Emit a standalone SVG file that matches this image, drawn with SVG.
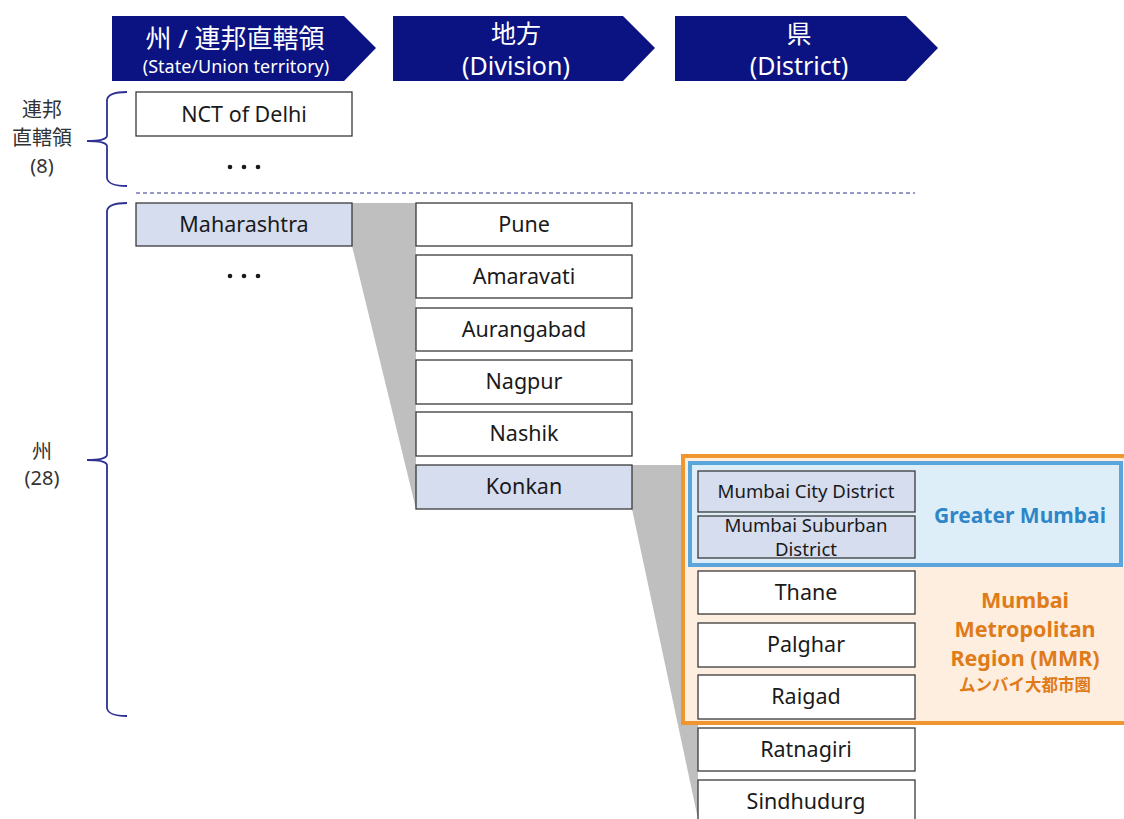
<svg xmlns="http://www.w3.org/2000/svg" width="1124" height="819" viewBox="0 0 1124 819">
  <style>
    .hdr { fill: #0b1281; }
    .ht { fill: #ffffff; font-family: "Noto Sans", "Noto Sans CJK JP", sans-serif; text-anchor: middle; }
    .box { fill: #ffffff; stroke: #3a3a3a; stroke-width: 1.3; }
    .sel { fill: #d6ddef; stroke: #3a3a3a; stroke-width: 1.3; }
    .bt { fill: #1a1a1a; font-family: "Noto Sans", "Noto Sans CJK JP", sans-serif; font-size: 21.5px; text-anchor: middle; }
    .sm { font-size: 18.6px; }
    .lbl { fill: #333333; font-family: "Noto Sans", "Noto Sans CJK JP", sans-serif; font-size: 20px; text-anchor: middle; }
    .brace { fill: none; stroke: #2e3192; stroke-width: 1.8; }
    .funnel { fill: #bfbfbf; }
    .dots { fill: #1a1a1a; }
  </style>

  <rect width="1124" height="819" fill="#ffffff"/>

  <!-- column headers -->
  <g id="hdr-state">
    <polygon class="hdr" points="112,16 344,16 376,48 344,81 112,81"/>
    <text class="ht" x="235" y="48" font-size="26">州 / 連邦直轄領</text>
    <text class="ht" x="236" y="73" font-size="18">(State/Union territory)</text>
  </g>
  <g id="hdr-division">
    <polygon class="hdr" points="393,16 623,16 655,48 623,81 393,81"/>
    <text class="ht" x="516" y="43" font-size="25">地方</text>
    <text class="ht" x="516" y="75" font-size="25">(Division)</text>
  </g>
  <g id="hdr-district">
    <polygon class="hdr" points="675,16 906,16 938,48 906,81 675,81"/>
    <text class="ht" x="799" y="43" font-size="25">県</text>
    <text class="ht" x="799" y="75" font-size="25">(District)</text>
  </g>

  <!-- group labels and braces -->
  <g id="label-ut">
    <text class="lbl" x="42" y="117">連邦</text>
    <text class="lbl" x="42" y="145">直轄領</text>
    <text class="lbl" x="42" y="173">(8)</text>
    <path class="brace" d="M127,92 Q108,92 107,100 L107,136 Q106,141 87,141 Q106,141 107,146 L107,178 Q108,186 127,186"/>
  </g>
  <g id="label-state">
    <text class="lbl" x="42" y="459">州</text>
    <text class="lbl" x="42" y="485">(28)</text>
    <path class="brace" d="M127,203 Q108,203 107,211 L107,455 Q106,460 87,460 Q106,460 107,465 L107,708 Q108,716 127,716"/>
  </g>

  <!-- divider between union territories and states -->
  <line x1="136" y1="193" x2="915" y2="193" stroke="#2e3192" stroke-width="1" stroke-dasharray="4,3"/>

  <!-- connectors: expansion funnels -->
  <g id="connectors">
    <polygon class="funnel" points="352,203 416,203 416,509 352,246"/>
    <polygon class="funnel" points="632,465 698,465 698,819 632,509"/>
  </g>

  <!-- union territory column -->
  <g id="nct-delhi">
    <rect class="box" x="136" y="92" width="216" height="44"/>
    <text class="bt" x="244" y="122">NCT of Delhi</text>
  </g>
  <g id="ut-more" class="dots">
    <circle cx="230" cy="167" r="2.3"/><circle cx="244" cy="167" r="2.3"/><circle cx="258" cy="167" r="2.3"/>
  </g>

  <!-- state column -->
  <g id="maharashtra">
    <rect class="sel" x="136" y="203" width="216" height="43"/>
    <text class="bt" x="244" y="232">Maharashtra</text>
  </g>
  <g id="state-more" class="dots">
    <circle cx="230" cy="276" r="2.3"/><circle cx="244" cy="276" r="2.3"/><circle cx="258" cy="276" r="2.3"/>
  </g>

  <!-- division column -->
  <g id="pune">
    <rect class="box" x="416" y="203" width="216" height="43"/>
    <text class="bt" x="524" y="232">Pune</text>
  </g>
  <g id="amaravati">
    <rect class="box" x="416" y="255" width="216" height="43"/>
    <text class="bt" x="524" y="284">Amaravati</text>
  </g>
  <g id="aurangabad">
    <rect class="box" x="416" y="308" width="216" height="43"/>
    <text class="bt" x="524" y="337">Aurangabad</text>
  </g>
  <g id="nagpur">
    <rect class="box" x="416" y="360" width="216" height="44"/>
    <text class="bt" x="524" y="389">Nagpur</text>
  </g>
  <g id="nashik">
    <rect class="box" x="416" y="412" width="216" height="44"/>
    <text class="bt" x="524" y="441">Nashik</text>
  </g>
  <g id="konkan">
    <rect class="sel" x="416" y="465" width="216" height="44"/>
    <text class="bt" x="524" y="494">Konkan</text>
  </g>

  <!-- metropolitan region frames -->
  <g id="mmr">
    <rect x="683" y="456" width="445" height="267" fill="#fdeee0" stroke="#f0962e" stroke-width="4"/>
    <g fill="#e07b1a" font-family="Noto Sans, Noto Sans CJK JP, sans-serif" font-weight="bold" text-anchor="middle">
      <text x="1025" y="608" font-size="21.5">Mumbai</text>
      <text x="1025" y="637" font-size="21.5">Metropolitan</text>
      <text x="1025" y="666" font-size="21.5">Region (MMR)</text>
      <text x="1025" y="691" font-size="16.5">ムンバイ大都市圏</text>
    </g>
  </g>
  <g id="greater-mumbai">
    <rect x="690" y="463" width="431" height="102" fill="#ddeef8" stroke="#5aa6dc" stroke-width="4"/>
    <text x="1020" y="523" fill="#2e86c8" font-family="Noto Sans, sans-serif" font-size="21" font-weight="bold" text-anchor="middle">Greater Mumbai</text>
  </g>

  <!-- district column -->
  <g id="mumbai-city">
    <rect class="sel" x="698" y="471" width="217" height="41"/>
    <text class="bt sm" x="806" y="498">Mumbai City District</text>
  </g>
  <g id="mumbai-suburban">
    <rect class="sel" x="698" y="516" width="217" height="42"/>
    <text class="bt sm" x="806" y="532">Mumbai Suburban</text>
    <text class="bt sm" x="806" y="556">District</text>
  </g>
  <g id="thane">
    <rect class="box" x="698" y="571" width="217" height="43"/>
    <text class="bt" x="806" y="600">Thane</text>
  </g>
  <g id="palghar">
    <rect class="box" x="698" y="623" width="217" height="44"/>
    <text class="bt" x="806" y="652">Palghar</text>
  </g>
  <g id="raigad">
    <rect class="box" x="698" y="675" width="217" height="44"/>
    <text class="bt" x="806" y="704">Raigad</text>
  </g>
  <g id="ratnagiri">
    <rect class="box" x="698" y="728" width="217" height="43"/>
    <text class="bt" x="806" y="757">Ratnagiri</text>
  </g>
  <g id="sindhudurg">
    <rect class="box" x="698" y="780" width="217" height="44"/>
    <text class="bt" x="806" y="809">Sindhudurg</text>
  </g>
</svg>
